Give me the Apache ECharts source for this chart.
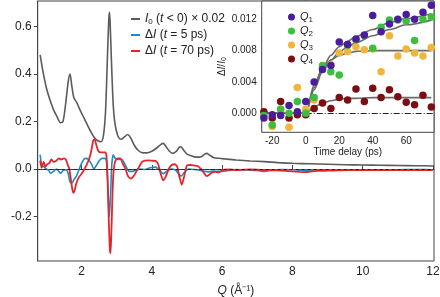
<!DOCTYPE html>
<html><head><meta charset="utf-8">
<script src="https://cdn.jsdelivr.net/npm/echarts@6/dist/echarts.min.js"></script>
<style>html,body{margin:0;padding:0;background:#fff}#c{width:440px;height:297px}</style>
</head><body><div id="c"></div>
<script>
// ---- main panel data ----
const qI0 = [0.82,0.9,1.0,1.1,1.2,1.3,1.4,1.47,1.55,1.62,1.67,1.72,1.78,1.86,1.95,2.05,2.15,2.25,2.35,2.45,2.55,2.62,2.68,2.73,2.77,2.79,2.81,2.85,2.9,2.95,3.03,3.12,3.22,3.31,3.4,3.5,3.6,3.7,3.85,4.0,4.15,4.25,4.32,4.4,4.5,4.6,4.7,4.77,4.82,4.9,5.0,5.1,5.25,5.4,5.5,5.56,5.65,5.75,5.9,6.1,6.4,6.8,7.2,7.6,8.0,8.5,9.0,9.5,10,10.5,11,11.5,12];
const i0 = [0.48,0.41,0.34,0.29,0.25,0.22,0.195,0.2,0.28,0.37,0.40,0.35,0.30,0.28,0.25,0.22,0.19,0.16,0.135,0.12,0.115,0.14,0.24,0.45,0.62,0.66,0.62,0.45,0.27,0.19,0.14,0.125,0.135,0.145,0.13,0.10,0.08,0.07,0.068,0.075,0.09,0.103,0.108,0.095,0.075,0.066,0.075,0.09,0.094,0.08,0.063,0.057,0.05,0.052,0.062,0.066,0.058,0.049,0.045,0.042,0.038,0.034,0.031,0.027,0.024,0.022,0.02,0.018,0.017,0.016,0.015,0.014,0.013];
const q5 = [0.82,0.86,0.92,1.0,1.06,1.12,1.2,1.28,1.35,1.4,1.48,1.56,1.62,1.67,1.72,1.78,1.85,1.92,2.0,2.1,2.2,2.3,2.35,2.42,2.5,2.58,2.65,2.7,2.74,2.77,2.79,2.82,2.86,2.9,2.96,3.05,3.15,3.25,3.35,3.45,3.55,3.65,3.8,3.95,4.1,4.22,4.32,4.42,4.55,4.68,4.76,4.83,4.92,5.04,5.2,5.35,5.5,5.6,5.7,5.85,6.0,6.2,6.4,6.7,7.0,7.2,7.4,7.7,8.0,8.3,8.6,9,9.5,10,10.5,11,11.5,12];
const d5 = [0.06,0.02,0.01,0.0,-0.005,-0.018,-0.01,0.0,-0.01,-0.018,-0.005,-0.003,-0.02,-0.055,-0.06,-0.045,-0.03,-0.005,0.025,0.045,0.04,0.015,0.0,0.015,0.035,0.045,0.045,0.04,-0.04,-0.16,-0.2,-0.12,0.02,0.06,0.045,0.04,0.04,0.015,-0.01,-0.01,-0.005,0.0,-0.002,0.005,0.008,-0.005,-0.02,-0.01,0.0,-0.005,-0.02,-0.03,-0.015,0.0,-0.002,-0.005,-0.01,-0.012,-0.008,-0.01,-0.01,-0.006,-0.002,-0.004,-0.006,-0.01,-0.004,-0.002,-0.003,-0.006,-0.004,-0.003,-0.004,-0.003,-0.004,-0.003,-0.002,-0.003];
const q70 = [0.82,0.86,0.92,0.97,1.02,1.08,1.14,1.2,1.28,1.35,1.42,1.5,1.55,1.6,1.65,1.7,1.74,1.77,1.8,1.85,1.92,2.0,2.08,2.15,2.22,2.28,2.33,2.37,2.42,2.48,2.55,2.62,2.68,2.71,2.74,2.77,2.8,2.82,2.84,2.87,2.9,2.95,3.02,3.1,3.18,3.25,3.32,3.4,3.48,3.56,3.64,3.72,3.8,3.9,4.0,4.1,4.18,4.25,4.32,4.4,4.48,4.56,4.65,4.72,4.78,4.85,4.92,5.0,5.1,5.2,5.3,5.4,5.5,5.56,5.62,5.7,5.8,5.9,6.0,6.2,6.4,6.6,6.8,7.0,7.2,7.5,7.8,8.0,8.2,8.35,8.5,8.7,9.0,9.3,9.6,10,10.5,11,11.5,12];
const d70 = [0.035,0.005,0.03,0.01,0.02,0.025,0.04,0.03,0.035,0.045,0.04,0.045,0.04,0.02,0.0,-0.05,-0.09,-0.1,-0.09,-0.06,-0.035,-0.02,0.0,0.02,0.045,0.08,0.12,0.125,0.1,0.075,0.07,0.07,0.07,0.05,-0.05,-0.2,-0.33,-0.355,-0.3,-0.15,-0.03,0.03,0.045,0.045,0.02,0.0,-0.03,-0.04,-0.03,-0.01,0.01,0.03,0.035,0.036,0.035,0.034,0.02,-0.02,-0.048,-0.03,0.0,0.017,0.02,0.01,-0.03,-0.066,-0.03,0.015,0.017,0.015,0.013,0.0,-0.02,-0.03,-0.025,-0.015,-0.012,-0.015,-0.005,-0.002,-0.004,-0.003,-0.002,-0.003,-0.005,-0.006,-0.008,-0.01,-0.012,-0.013,-0.011,-0.008,-0.007,-0.006,-0.005,-0.005,-0.005,-0.004,-0.005,-0.005];
const mainXTicks = [2,4,6,8,10,12];
const mainYTicks = [-0.2,0,0.2,0.4,0.6];

// ---- inset data ----
const tDelay = [-25,-20,-15,-10,-5,0,5,10,15,20,25,30,35,40,45,50,55,60,65,70,75];
const Q1 = [-0.0006,-0.0002,-0.0003,0.001,0.0002,0.0015,0.004,0.0056,0.0061,0.0091,0.0088,0.0095,0.01,0.0125,0.0104,0.0114,0.012,0.0126,0.012,0.0129,0.0138];
const Q2 = [-0.0003,-0.0015,0.0005,0.0,0.0015,0.0,0.002,0.0061,0.0053,0.0049,0.0087,0.0094,0.0099,0.0083,0.011,0.0119,0.0119,0.0118,0.0093,0.012,0.0123];
const Q3 = [-0.0002,-0.0017,0.0005,-0.0018,0.0033,0.0005,0.0017,0.0058,0.0062,0.0077,0.0079,0.0085,0.0081,0.0082,0.0053,0.0099,0.0073,0.0082,0.0077,0.0073,0.0084];
const Q4 = [0.0002,-0.0006,0.0015,-0.0006,-0.0002,-0.0002,0.0006,0.0013,0.0006,0.002,0.0017,0.0031,0.0015,0.0032,0.002,0.003,0.0021,0.0014,0.0011,0.0023,0.0008];
const tFit = [-25,-5,0,5,10,15,20,25,30,40,50,60,75];
const fit1 = [0,0,0,0.0033,0.0058,0.0074,0.0085,0.0092,0.0098,0.0107,0.0116,0.0121,0.0127];
const fit2 = [0,0,0,0.003,0.0053,0.0068,0.0078,0.0085,0.009,0.0099,0.0107,0.0113,0.0119];
const fit3 = [0,0,0,0.0036,0.0057,0.0068,0.0074,0.0077,0.0079,0.008,0.008,0.008,0.008];
const fit4 = [0,0,0,0.0008,0.0013,0.0016,0.0018,0.0019,0.0019,0.002,0.002,0.002,0.002];
const insetXTicks = [-20,0,20,40,60];
const insetYTicks = [0,0.004,0.008,0.012];

const zip = (a,b)=>a.map((x,i)=>[x,b[i]]);
const FONT = 'Liberation Sans, Arial, Helvetica, sans-serif';
const TXT = '#222';
const AX = '#444';

const chart = echarts.init(document.getElementById('c'), null, {renderer:'canvas'});

const mainRich = {
  it:{fontStyle:'italic', fontSize:12, fontFamily:FONT, color:TXT},
  n:{fontSize:12, fontFamily:FONT, color:TXT},
  sub:{fontSize:8, fontFamily:FONT, color:TXT, padding:[6,0,0,0]}
};
const insetRich = {
  it:{fontStyle:'italic', fontSize:11, fontFamily:FONT, color:TXT},
  sub:{fontSize:8, fontFamily:FONT, color:TXT, padding:[6,0,0,0]}
};
const mainLegendText = {
  'I0':'{it|I}{sub|0}{n| (}{it|t}{n| < 0) × 0.02}',
  'd5':'{n|Δ}{it|I}{n| (}{it|t}{n| = 5 ps)}',
  'd70':'{n|Δ}{it|I}{n| (}{it|t}{n| = 70 ps)}'
};
const insetLegendText = {'Q1':'{it|Q}{sub|1}','Q2':'{it|Q}{sub|2}','Q3':'{it|Q}{sub|3}','Q4':'{it|Q}{sub|4}'};

const qColors = {Q1:'#4a1d9e', Q2:'#3cbf3c', Q3:'#f2b53c', Q4:'#7c0d12'};
const fitStyle = {color:'#6a6a6a', width:1.6};

const option = {
  animation:false,
  backgroundColor:'#fff',
  textStyle:{fontFamily:FONT},
  grid:[
    {left:37.7, top:1, right:6, bottom:36, show:true, borderColor:AX, borderWidth:1, backgroundColor:'transparent', containLabel:false, outerBoundsMode:'none'},
    {left:261.7, top:1, right:6, bottom:164.7, show:true, borderColor:AX, borderWidth:1, backgroundColor:'#fff', z:5, containLabel:false, outerBoundsMode:'none'}
  ],
  legend:[
    {
      data:['I0','d5','d70'], orient:'vertical', left:126, top:7,
      icon:'rect', itemWidth:9, itemHeight:2, itemGap:2,
      formatter:n=>mainLegendText[n],
      textStyle:{rich:mainRich, lineHeight:14, padding:[0,0,0,0]}
    },
    {
      data:['Q1','Q2','Q3','Q4'], orient:'vertical', left:283, top:6,
      icon:'circle', itemWidth:7, itemHeight:7, itemGap:1, z:10,
      formatter:n=>insetLegendText[n],
      textStyle:{rich:insetRich, lineHeight:12}
    }
  ],
  xAxis:[
    {
      gridIndex:0, type:'value', min:0.75, max:12.03,
      axisLine:{show:true, lineStyle:{color:AX, width:1}},
      axisTick:{show:true, inside:true, length:4, customValues:mainXTicks, lineStyle:{color:AX}},
      axisLabel:{customValues:mainXTicks, margin:5, fontSize:12, color:TXT, fontFamily:FONT},
      splitLine:{show:false},
      name:'{it|Q}{n| (Å⁻¹)}', nameLocation:'middle', nameGap:24,
      nameTextStyle:{rich:mainRich}
    },
    {
      gridIndex:1, type:'value', min:-26.3, max:76.6,
      axisLine:{show:true, lineStyle:{color:AX, width:1}},
      axisTick:{show:true, inside:false, length:3, customValues:insetXTicks, lineStyle:{color:AX}},
      axisLabel:{customValues:insetXTicks, margin:4, fontSize:10, color:TXT, fontFamily:FONT},
      splitLine:{show:false},
      name:'Time delay (ps)', nameLocation:'middle', nameGap:13,
      nameTextStyle:{fontSize:10, color:TXT, fontFamily:FONT}
    }
  ],
  yAxis:[
    {
      gridIndex:0, type:'value', min:-0.387, max:0.707,
      axisLine:{show:true, lineStyle:{color:AX, width:1}},
      axisTick:{show:true, inside:false, length:4, customValues:mainYTicks, lineStyle:{color:AX}},
      axisLabel:{customValues:mainYTicks, margin:6, fontSize:12, color:TXT, fontFamily:FONT,
        formatter:v=>v.toFixed(1)},
      splitLine:{show:false},
      name:'Intensity (a.u.)', nameLocation:'middle', nameGap:23,
      nameTextStyle:{fontSize:12, color:TXT, fontFamily:FONT}
    },
    {
      gridIndex:1, type:'value', min:-0.00243, max:0.01434,
      axisLine:{show:true, lineStyle:{color:AX, width:1}},
      axisTick:{show:true, inside:false, length:3, customValues:insetYTicks, lineStyle:{color:AX}},
      axisLabel:{customValues:insetYTicks, margin:5, fontSize:10, color:TXT, fontFamily:FONT,
        formatter:v=>v.toFixed(3)},
      splitLine:{show:false},
      name:'{n|Δ}{it|I}{n|/}{it|I}{sub|0}', nameLocation:'middle', nameGap:29,
      nameTextStyle:{rich:{
        n:{fontSize:10, fontFamily:FONT, color:TXT},
        it:{fontSize:10, fontStyle:'italic', fontFamily:FONT, color:TXT},
        sub:{fontSize:7, fontFamily:FONT, color:TXT, padding:[5,0,0,0]}
      }}
    }
  ],
  series:[
    {name:'I0', type:'line', xAxisIndex:0, yAxisIndex:0, data:zip(qI0,i0), showSymbol:false, smooth:0.3,
      color:'#5b5b5b', lineStyle:{color:'#5b5b5b', width:1.6},
      markLine:{silent:true, symbol:'none', label:{show:false}, data:[{yAxis:0}],
        lineStyle:{color:'#222', type:[3,3], width:1}}},
    {name:'d5', type:'line', xAxisIndex:0, yAxisIndex:0, data:zip(q5,d5), showSymbol:false, smooth:0.2,
      color:'#1f8bc4', lineStyle:{color:'#1f8bc4', width:1.6}},
    {name:'d70', type:'line', xAxisIndex:0, yAxisIndex:0, data:zip(q70,d70), showSymbol:false, smooth:0.2,
      color:'#e3262b', lineStyle:{color:'#e3262b', width:1.8}},
    {name:'fit1', type:'line', xAxisIndex:1, yAxisIndex:1, data:zip(tFit,fit1), showSymbol:false, smooth:0.3, smoothMonotone:'x', lineStyle:fitStyle, z:6,
      markLine:{silent:true, symbol:'none', label:{show:false}, data:[{yAxis:0}],
        lineStyle:{color:'#222', type:[6,2,1,2], width:1}}},
    {name:'fit2', type:'line', xAxisIndex:1, yAxisIndex:1, data:zip(tFit,fit2), showSymbol:false, smooth:0.3, smoothMonotone:'x', lineStyle:fitStyle, z:6},
    {name:'fit3', type:'line', xAxisIndex:1, yAxisIndex:1, data:zip(tFit,fit3), showSymbol:false, smooth:0.3, smoothMonotone:'x', lineStyle:fitStyle, z:6},
    {name:'fit4', type:'line', xAxisIndex:1, yAxisIndex:1, data:zip(tFit,fit4), showSymbol:false, smooth:0.3, smoothMonotone:'x', lineStyle:fitStyle, z:6},
    {name:'Q3', type:'scatter', xAxisIndex:1, yAxisIndex:1, data:zip(tDelay,Q3), symbolSize:7.5, color:qColors.Q3, itemStyle:{color:qColors.Q3, opacity:1}, z:7},
    {name:'Q4', type:'scatter', xAxisIndex:1, yAxisIndex:1, data:zip(tDelay,Q4), symbolSize:7.5, color:qColors.Q4, itemStyle:{color:qColors.Q4, opacity:1}, z:7},
    {name:'Q2', type:'scatter', xAxisIndex:1, yAxisIndex:1, data:zip(tDelay,Q2), symbolSize:7.5, color:qColors.Q2, itemStyle:{color:qColors.Q2, opacity:1}, z:7},
    {name:'Q1', type:'scatter', xAxisIndex:1, yAxisIndex:1, data:zip(tDelay,Q1), symbolSize:7.5, color:qColors.Q1, itemStyle:{color:qColors.Q1, opacity:1}, z:7}
  ]
};
chart.setOption(option);
</script>
</body></html>
